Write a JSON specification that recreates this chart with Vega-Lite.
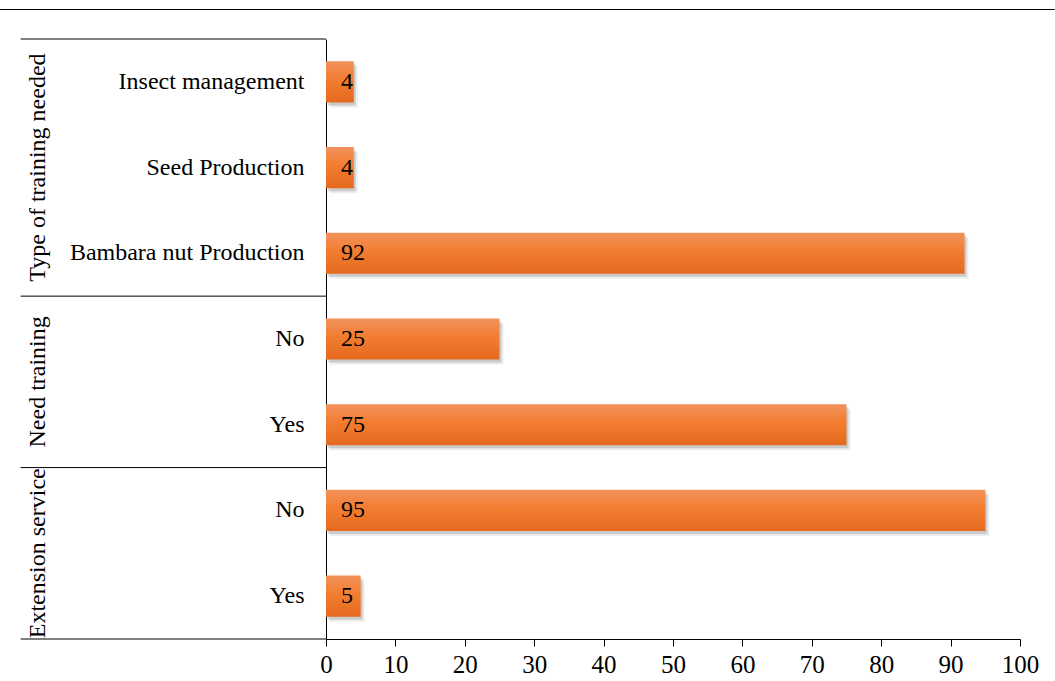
{
  "$schema": "https://vega.github.io/schema/vega-lite/v6.json",
  "autosize": {"type": "none"},
  "width": 694,
  "height": 600,
  "padding": {"left": 326, "top": 39, "right": 35, "bottom": 42},
  "background": "white",
  "config": {
    "view": {"stroke": null},
    "font": "Liberation Serif",
    "text": {"font": "Liberation Serif"}
  },
  "datasets": {
    "main": [
      {"group": "Type of training needed", "category": "Insect management", "key": "Type of training needed|Insect management", "value": 4},
      {"group": "Type of training needed", "category": "Seed Production", "key": "Type of training needed|Seed Production", "value": 4},
      {"group": "Type of training needed", "category": "Bambara nut Production", "key": "Type of training needed|Bambara nut Production", "value": 92},
      {"group": "Need training", "category": "No", "key": "Need training|No", "value": 25},
      {"group": "Need training", "category": "Yes", "key": "Need training|Yes", "value": 75},
      {"group": "Extension service", "category": "No", "key": "Extension service|No", "value": 95},
      {"group": "Extension service", "category": "Yes", "key": "Extension service|Yes", "value": 5}
    ],
    "groups": [
      {"group": "Type of training needed", "anchor": "Type of training needed|Seed Production", "kind": "center"},
      {"group": "Need training", "anchor": "Need training|Yes", "kind": "edge"},
      {"group": "Extension service", "anchor": "Extension service|Yes", "kind": "edge"}
    ]
  },
  "data": {"name": "main"},
  "layer": [
    {
      "mark": {"type": "bar", "height": {"band": 0.48}, "color": "#000000", "opacity": 0.07, "xOffset": 4, "yOffset": 5},
      "encoding": {
        "y": {"field": "key", "type": "nominal", "sort": null,
          "scale": {"paddingInner": 0, "paddingOuter": 0},
          "axis": {"title": null, "domain": true, "domainColor": "#000", "domainWidth": 1, "ticks": false, "labelPadding": 22,
            "labelExpr": "split(datum.label, '|')[1]", "labelFont": "Liberation Serif", "labelFontSize": 24, "labelColor": "#000", "labelLimit": 400}},
        "x": {"field": "value", "type": "quantitative",
          "scale": {"domain": [0, 100], "nice": false},
          "axis": {"title": null, "values": [0,10,20,30,40,50,60,70,80,90,100], "grid": false, "domainColor": "#000", "domainWidth": 1,
            "tickColor": "#000", "tickSize": 7, "tickWidth": 1, "labelPadding": 6, "labelFlush": false, "labelOverlap": false,
            "labelFont": "Liberation Serif", "labelFontSize": 25, "labelColor": "#000"}}
      }
    },
    {
      "mark": {"type": "bar", "height": {"band": 0.48}, "color": "#000000", "opacity": 0.14, "xOffset": 2, "yOffset": 3},
      "encoding": {
        "y": {"field": "key", "type": "nominal", "sort": null},
        "x": {"field": "value", "type": "quantitative"}
      }
    },
    {
      "mark": {"type": "bar", "height": {"band": 0.48},
        "color": {"gradient": "linear", "x1": 0, "y1": 0, "x2": 0, "y2": 1,
          "stops": [{"offset": 0, "color": "#F2925C"}, {"offset": 0.45, "color": "#F27D31"}, {"offset": 1, "color": "#E4691E"}]}},
      "encoding": {
        "y": {"field": "key", "type": "nominal", "sort": null},
        "x": {"field": "value", "type": "quantitative"}
      }
    },
    {
      "mark": {"type": "text", "align": "left", "baseline": "middle", "dx": 15, "fontSize": 24, "color": "#000"},
      "encoding": {
        "y": {"field": "key", "type": "nominal", "sort": null},
        "x": {"datum": 0, "type": "quantitative"},
        "text": {"field": "value", "type": "quantitative"}
      }
    },
    {
      "transform": [{"filter": "datum.key == 'Type of training needed|Insect management' || datum.key == 'Need training|No' || datum.key == 'Extension service|No'"}],
      "mark": {"type": "rule", "color": "#000", "strokeWidth": 1, "clip": false},
      "encoding": {
        "y": {"field": "key", "type": "nominal", "sort": null, "bandPosition": 0},
        "x": {"datum": -44, "type": "quantitative"},
        "x2": {"datum": 0}
      }
    },
    {
      "transform": [{"filter": "datum.key == 'Extension service|Yes'"}],
      "mark": {"type": "rule", "color": "#000", "strokeWidth": 1, "clip": false},
      "encoding": {
        "y": {"field": "key", "type": "nominal", "sort": null, "bandPosition": 1},
        "x": {"datum": -44, "type": "quantitative"},
        "x2": {"datum": 0}
      }
    },
    {
      "transform": [{"filter": "datum.key == 'Type of training needed|Insect management'"}],
      "mark": {"type": "rule", "color": "#000", "strokeWidth": 1, "clip": false, "yOffset": -29.5},
      "encoding": {
        "y": {"field": "key", "type": "nominal", "sort": null, "bandPosition": 0},
        "x": {"datum": -47, "type": "quantitative"},
        "x2": {"datum": 105}
      }
    },
    {
      "data": {"name": "groups"},
      "transform": [{"filter": "datum.kind == 'center'"}],
      "mark": {"type": "text", "angle": 270, "align": "center", "baseline": "middle", "fontSize": 24, "color": "#000", "clip": false},
      "encoding": {
        "y": {"field": "anchor", "type": "nominal", "sort": null, "bandPosition": 0.5},
        "x": {"datum": -41.5, "type": "quantitative"},
        "text": {"field": "group"}
      }
    },
    {
      "data": {"name": "groups"},
      "transform": [{"filter": "datum.kind == 'edge'"}],
      "mark": {"type": "text", "angle": 270, "align": "center", "baseline": "middle", "fontSize": 24, "color": "#000", "clip": false},
      "encoding": {
        "y": {"field": "anchor", "type": "nominal", "sort": null, "bandPosition": 0},
        "x": {"datum": -41.5, "type": "quantitative"},
        "text": {"field": "group"}
      }
    }
  ]
}
